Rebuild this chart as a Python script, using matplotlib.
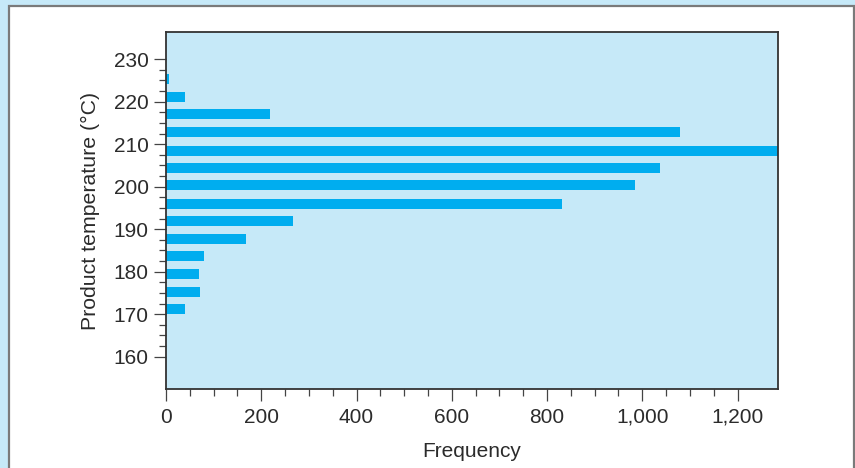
import matplotlib
matplotlib.use("Agg")
import matplotlib.pyplot as plt
from matplotlib.patches import Rectangle
from matplotlib.ticker import FixedLocator

# Histogram of product temperature (bin centres, °C) and counts
temperature = [171.2, 175.3, 179.5, 183.7, 187.8, 192.0, 196.0,
               200.3, 204.5, 208.5, 212.8, 217.0, 221.1, 225.3]
frequency = [40, 72, 70, 80, 169, 266, 831,
             985, 1037, 1285, 1080, 219, 40, 7]

x_ticks = [0, 200, 400, 600, 800, 1000, 1200]
x_tick_labels = ["0", "200", "400", "600", "800", "1,000", "1,200"]
y_ticks = [160, 170, 180, 190, 200, 210, 220, 230]

plt.rcParams["font.family"] = ["Liberation Sans", "DejaVu Sans"]

outer = "#c6e9f8"
panel_bg = "#c6e9f8"
bar_color = "#00adef"
ink = "#2b2b2b"

fig = plt.figure(figsize=(8.55, 4.68), dpi=100, facecolor=outer)

# white card with grey edge, behind the axes
card = Rectangle((8.5 / 855, -0.05), (854 - 8.5) / 855, 1.05 - 6.5 / 468,
                 transform=fig.transFigure, facecolor="white",
                 edgecolor="#7a7a7a", linewidth=1.6, zorder=-10)
fig.patches.append(card)

ax = fig.add_axes([166 / 855, 1 - 389 / 468, (778 - 166) / 855, (389 - 32) / 468])
ax.set_zorder(5)
ax.set_facecolor(panel_bg)

ax.barh(temperature, frequency, height=2.35, color=bar_color, zorder=2)

ax.set_xlim(0, 1285)
ax.set_ylim(152.4, 236.4)

ax.xaxis.set_major_locator(FixedLocator(x_ticks))
ax.set_xticklabels(x_tick_labels)
ax.xaxis.set_minor_locator(FixedLocator([v for v in range(0, 1201, 50) if v % 200]))
ax.yaxis.set_major_locator(FixedLocator(y_ticks))
ax.yaxis.set_minor_locator(FixedLocator([160 + 2.5 * i for i in range(29) if i % 4]))

ax.tick_params(axis="both", which="major", direction="out", length=8.4,
               width=0.9, color="#444444", labelsize=15, labelcolor=ink)
ax.tick_params(axis="both", which="minor", direction="out", length=4.8,
               width=0.9, color="#444444")
ax.tick_params(axis="y", which="major", pad=4)
ax.tick_params(axis="x", which="major", pad=5)

for side in ("left", "bottom", "top", "right"):
    ax.spines[side].set_color("#333333")
    ax.spines[side].set_linewidth(1.3)

ax.set_xlabel("Frequency", fontsize=15, color=ink, labelpad=11)
ax.set_ylabel("Product temperature (°C)", fontsize=15.3, color=ink, labelpad=10)

fig.savefig("out.png", dpi=100, facecolor=outer)
